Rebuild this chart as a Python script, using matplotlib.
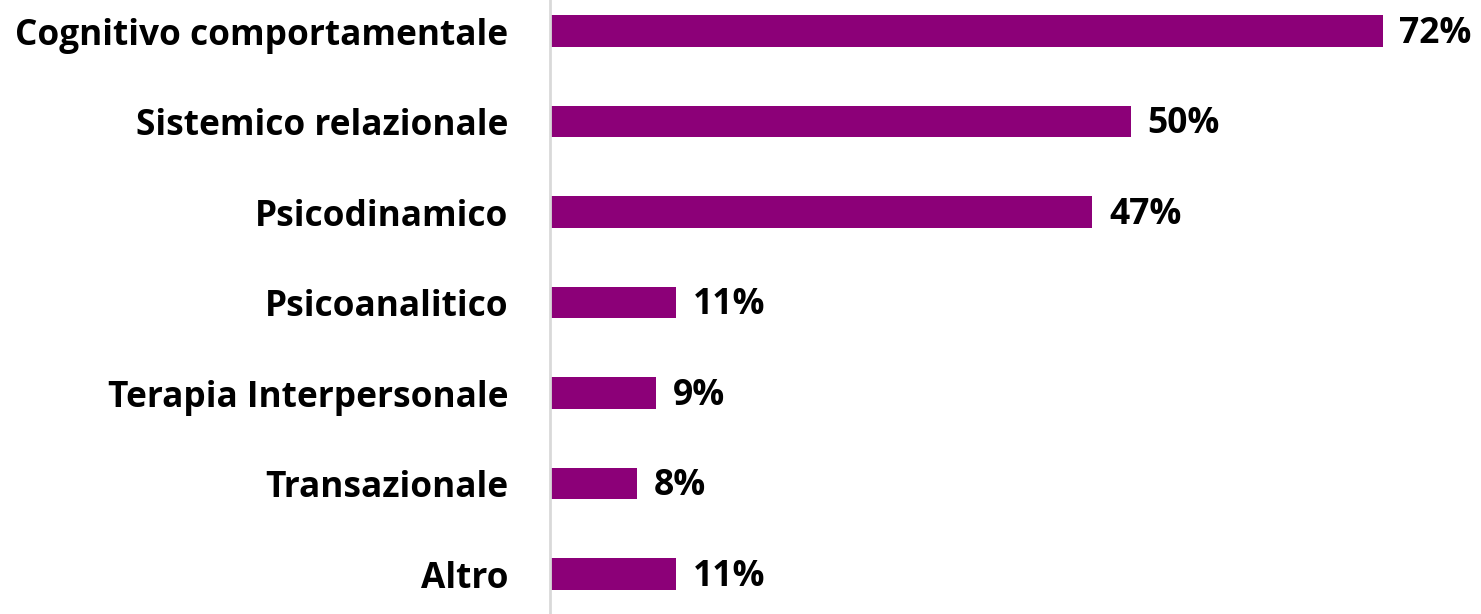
import matplotlib
matplotlib.use("Agg")
import matplotlib.pyplot as plt

categories = ["Cognitivo comportamentale", "Sistemico relazionale", "Psicodinamico",
              "Psicoanalitico", "Terapia Interpersonale", "Transazionale", "Altro"]
values = [72, 50.2, 46.9, 10.9, 9.2, 7.5, 10.9]
value_labels = ["72%", "50%", "47%", "11%", "9%", "8%", "11%"]

plt.rcParams['font.family'] = ['Open Sans', 'DejaVu Sans']

fig = plt.figure(figsize=(14.81, 6.14), dpi=100)
ax = fig.add_axes([550 / 1481, 0, 1 - 550 / 1481, 1])

bar_color = '#8C0078'
ypos = list(range(len(categories)))
ax.barh(ypos, values, height=0.35, color=bar_color, edgecolor='none')

ax.set_xlim(0, 80.5)
ax.set_ylim(6.44, -0.343)

ax.set_yticks(ypos)
ax.set_yticklabels(categories, fontsize=25.4, fontweight='bold', color='black')
ax.tick_params(axis='y', length=0, pad=30)
ax.set_xticks([])

for s in ['top', 'right', 'bottom']:
    ax.spines[s].set_visible(False)
ax.spines['left'].set_color('#D9D9D9')
ax.spines['left'].set_linewidth(2)

for y, v, lab in zip(ypos, values, value_labels):
    ax.annotate(lab, xy=(v, y), xytext=(12, -2), textcoords='offset points',
                ha='left', va='center', fontsize=25.5, fontweight='bold', color='black')

fig.savefig('out.png', dpi=100)
